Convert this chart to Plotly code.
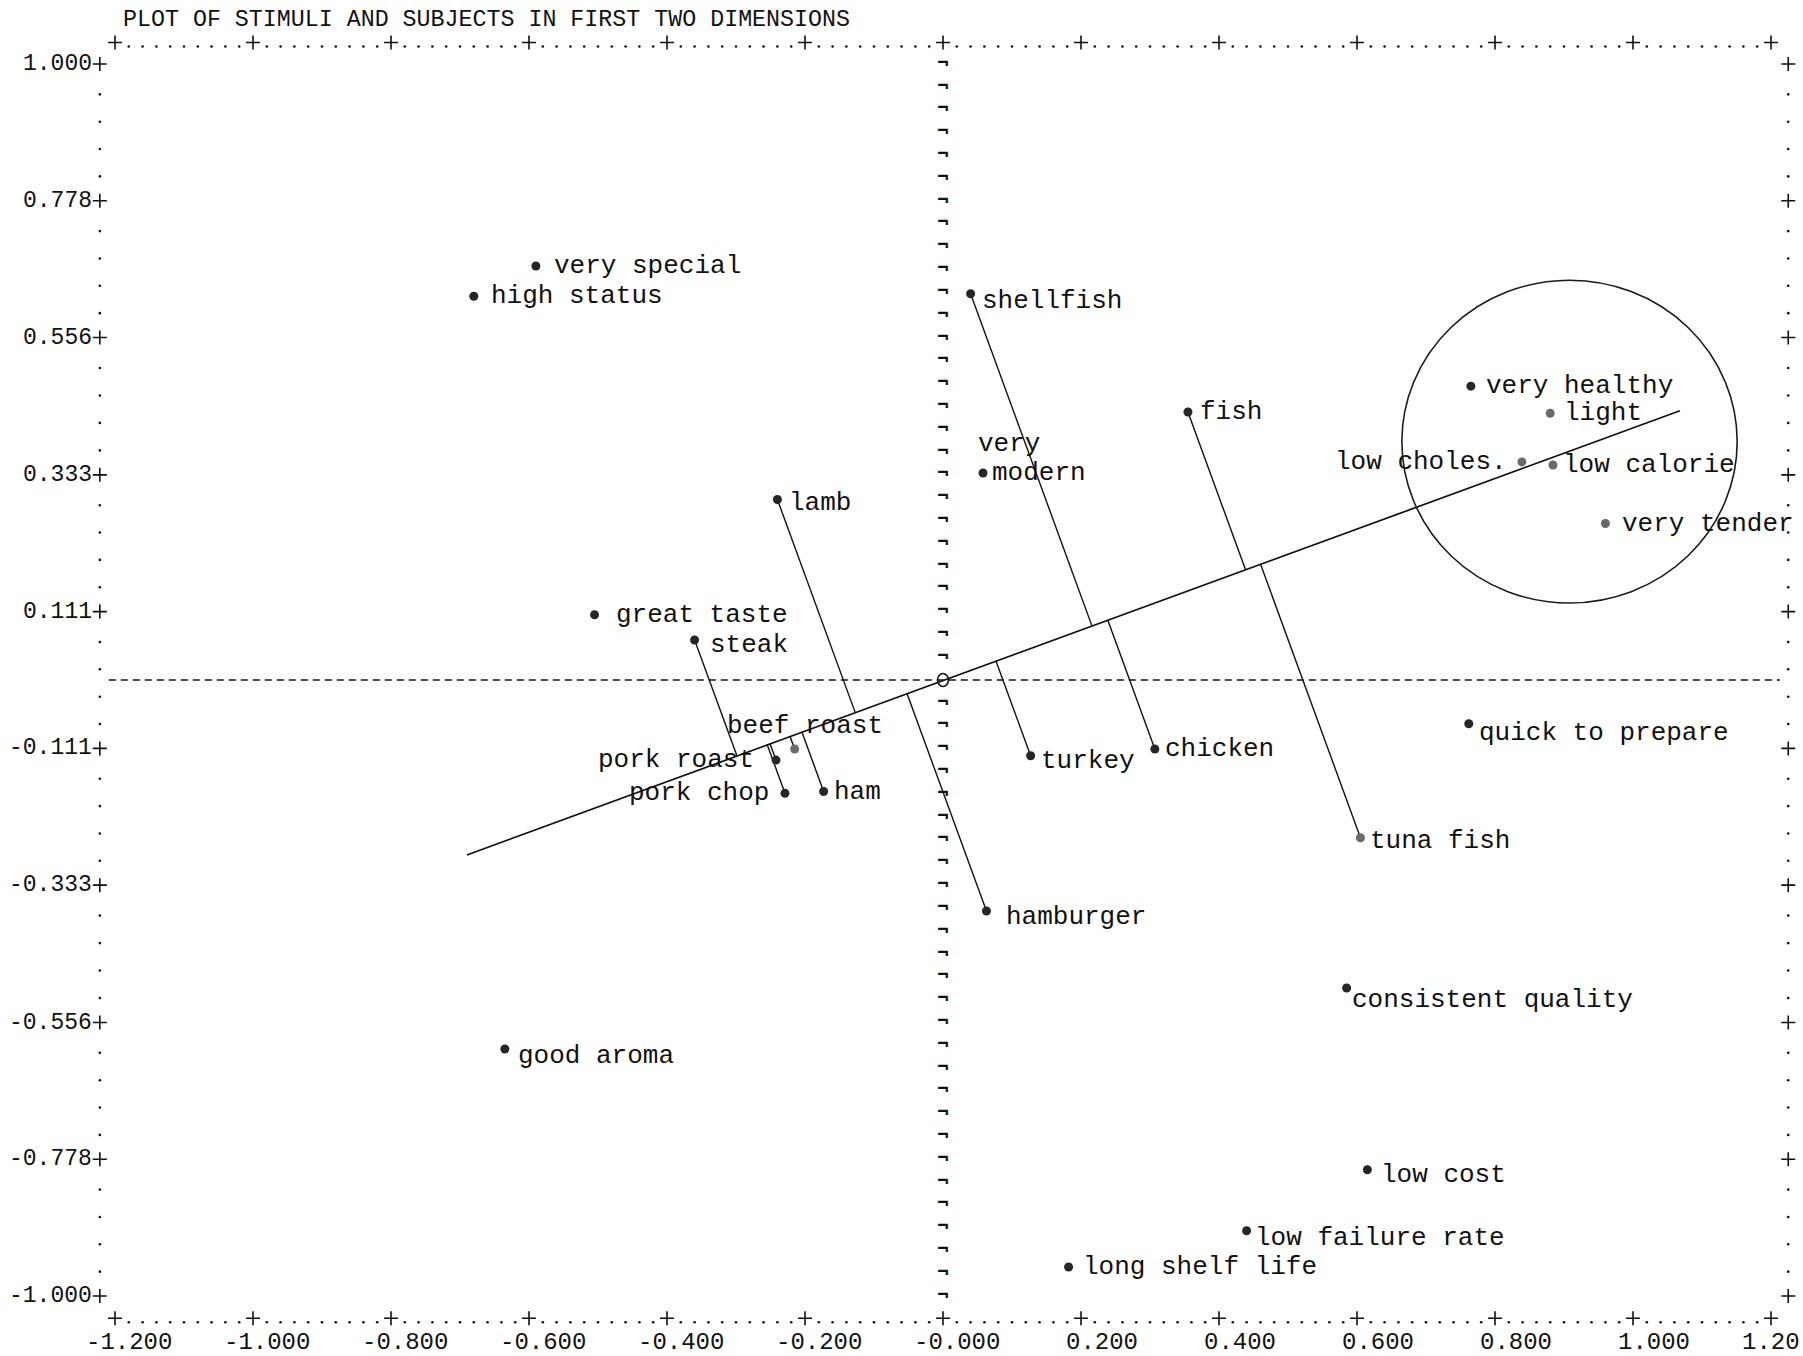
import plotly.graph_objects as go

# ---------------------------------------------------------------------------
# Data
# ---------------------------------------------------------------------------
TITLE = "PLOT OF STIMULI AND SUBJECTS IN FIRST TWO DIMENSIONS"

# Stimuli (foods); each is projected onto the preference vector
stimulus_names = ["shellfish", "fish", "lamb", "steak", "beef roast", "pork roast",
                  "pork chop", "ham", "turkey", "chicken", "hamburger", "tuna fish"]
stimulus_x = [0.040, 0.355, -0.240, -0.360, -0.215, -0.242,
              -0.229, -0.173, 0.127, 0.307, 0.063, 0.605]
stimulus_y = [0.627, 0.435, 0.293, 0.065, -0.112, -0.130,
              -0.184, -0.181, -0.123, -0.112, -0.375, -0.256]

# Subjects' attribute points
attribute_names = ["very special", "high status", "very\nmodern", "great taste",
                   "quick to prepare", "consistent quality", "good aroma", "low cost",
                   "low failure rate", "long shelf life", "very healthy", "light",
                   "low choles.", "low calorie", "very tender"]
attribute_x = [-0.590, -0.680, 0.058, -0.505, 0.762, 0.585, -0.635, 0.615,
               0.440, 0.182, 0.765, 0.880, 0.839, 0.884, 0.960]
attribute_y = [0.672, 0.623, 0.336, 0.106, -0.071, -0.500, -0.599, -0.795,
               -0.894, -0.953, 0.477, 0.433, 0.354, 0.349, 0.254]

# Preference vector through the origin
vector_x = [-0.690, 1.068]
vector_y = [-0.284, 0.437]

# Cluster ring around the "healthy" attributes
cluster_center = (0.908, 0.387)
cluster_radius = (0.243, 0.262)

# Axis ticks
x_ticks = [-1.2, -1.0, -0.8, -0.6, -0.4, -0.2, 0.0, 0.2, 0.4, 0.6, 0.8, 1.0, 1.2]
x_tick_labels = ["-1.200", "-1.000", "-0.800", "-0.600", "-0.400", "-0.200", "-0.000",
                 "0.200", "0.400", "0.600", "0.800", "1.000", "1.20"]
y_ticks = [1.0, 0.778, 0.556, 0.333, 0.111, -0.111, -0.333, -0.556, -0.778, -1.0]
y_tick_labels = ["1.000", "0.778", "0.556", "0.333", "0.111", "-0.111", "-0.333",
                 "-0.556", "-0.778", "-1.000"]

# ---------------------------------------------------------------------------
# Page geometry and styles
# ---------------------------------------------------------------------------
W, H = 1803, 1356
PX_X, PX_Y = 690.0, 616.0          # pixels per data unit
ORIGIN = (943.0, 680.0)            # pixel position of (0, 0)
x_range = [-ORIGIN[0] / PX_X, (W - ORIGIN[0]) / PX_X]
y_range = [-(H - ORIGIN[1]) / PX_Y, ORIGIN[1] / PX_Y]

TOP_ROW, BOTTOM_ROW = 1.035, -1.036
LEFT_COL, RIGHT_COL = -1.222, 1.225
XLABEL_Y = -1.075

INK = "#111111"
LABEL_FONT = dict(family="Liberation Mono", size=26, color=INK)
AXIS_FONT = "Liberation Mono"

grey_points = {"beef roast", "tuna fish", "light", "low choles.", "low calorie", "very tender"}

# gap in px between a marker and the start of its label
label_gap = {"very special": 16, "high status": 15, "great taste": 19, "steak": 13,
             "hamburger": 18, "very tender": 15, "very healthy": 13, "light": 12,
             "good aroma": 11, "low cost": 12, "long shelf life": 12,
             "consistent quality": 3, "low failure rate": 6, "shellfish": 9,
             "fish": 10, "lamb": 10}
DEFAULT_GAP = 8
# labels printed a little below their marker (px)
label_drop = {"quick to prepare": 9, "consistent quality": 12, "good aroma": 7,
              "low failure rate": 7, "shellfish": 7, "hamburger": 6, "low cost": 5,
              "turkey": 5, "steak": 5, "lamb": 3, "tuna fish": 3}
# labels written to the left of their marker
left_labels = {"low choles.": 13, "pork roast": 20, "pork chop": 14}
# labels written above and to the left
above_labels = {"beef roast": (-70, 23)}

fig = go.Figure()

# ---------------------------------------------------------------------------
# Printer-style frame: '+' at the ticks, dots between them
# ---------------------------------------------------------------------------
dot_x, dot_y = [], []
for a, b in zip(x_ticks[:-1], x_ticks[1:]):
    step = (b - a) / 10
    for k in range(1, 10):
        for row in (TOP_ROW, BOTTOM_ROW):
            dot_x.append(a + k * step)
            dot_y.append(row - 4 / PX_Y)
for a, b in zip(y_ticks[:-1], y_ticks[1:]):
    step = (b - a) / 5
    for k in range(1, 5):
        for col in (LEFT_COL, RIGHT_COL):
            dot_x.append(col)
            dot_y.append(a + k * step - 3 / PX_Y)
fig.add_trace(go.Scatter(x=dot_x, y=dot_y, mode="markers", hoverinfo="skip",
                         marker=dict(size=2.6, color=INK)))

plus_x = [t for t in x_ticks] * 2 + [LEFT_COL] * len(y_ticks) + [RIGHT_COL] * len(y_ticks)
plus_y = [TOP_ROW] * len(x_ticks) + [BOTTOM_ROW] * len(x_ticks) + list(y_ticks) * 2
fig.add_trace(go.Scatter(x=plus_x, y=plus_y, mode="markers", hoverinfo="skip",
                         marker=dict(symbol="cross-thin", size=10,
                                     line=dict(width=1.6, color=INK))))

# vertical reference column at x = 0
col_y = [k / 27 for k in range(-27, 28) if k != 0]
fig.add_trace(go.Scatter(x=[0.0] * len(col_y), y=col_y, mode="text",
                         text=["\u00ac"] * len(col_y), hoverinfo="skip",
                         textfont=dict(family="DejaVu Sans Mono", size=19, color=INK,
                                       weight="bold")))

# horizontal dashed line at y = 0
fig.add_trace(go.Scatter(x=[-1.209, 1.213], y=[0, 0], mode="lines", hoverinfo="skip",
                         line=dict(color=INK, width=1.3, dash="7px,5px")))

# ---------------------------------------------------------------------------
# Preference vector and stimulus projections (perpendicular on the page)
# ---------------------------------------------------------------------------
fig.add_trace(go.Scatter(x=vector_x, y=vector_y, mode="lines", hoverinfo="skip",
                         line=dict(color=INK, width=1.7)))

ax, ay = vector_x[1] * PX_X, vector_y[1] * PX_Y
norm2 = ax * ax + ay * ay
proj_x, proj_y = [], []
for sx, sy in zip(stimulus_x, stimulus_y):
    t = (sx * PX_X * ax + sy * PX_Y * ay) / norm2
    proj_x += [sx, t * ax / PX_X, None]
    proj_y += [sy, t * ay / PX_Y, None]
fig.add_trace(go.Scatter(x=proj_x, y=proj_y, mode="lines", hoverinfo="skip",
                         line=dict(color=INK, width=1.4)))

# ---------------------------------------------------------------------------
# Points
# ---------------------------------------------------------------------------
all_names = stimulus_names + attribute_names
all_x = stimulus_x + attribute_x
all_y = stimulus_y + attribute_y
colors = ["#6a6a6a" if n in grey_points else "#262626" for n in all_names]
fig.add_trace(go.Scatter(x=all_x, y=all_y, mode="markers", hoverinfo="skip",
                         marker=dict(size=9, color=colors, line=dict(width=0))))

annotations = []
for name, x, y in zip(all_names, all_x, all_y):
    drop = -label_drop.get(name, 0)
    if name in above_labels:
        dx, dy = above_labels[name]
        annotations.append(dict(x=x, y=y, text=name, xanchor="left", yanchor="middle",
                                xshift=dx, yshift=dy))
    elif name in left_labels:
        annotations.append(dict(x=x, y=y, text=name, xanchor="right", yanchor="middle",
                                xshift=-left_labels[name], yshift=drop))
    elif "\n" in name:
        first, second = name.split("\n")
        annotations.append(dict(x=x, y=y, text=first, xanchor="left", yanchor="middle",
                                xshift=-7, yshift=29))
        annotations.append(dict(x=x, y=y, text=second, xanchor="left", yanchor="middle",
                                xshift=7))
    else:
        annotations.append(dict(x=x, y=y, text=name, xanchor="left", yanchor="middle",
                                xshift=label_gap.get(name, DEFAULT_GAP), yshift=drop))
for a in annotations:
    a.update(showarrow=False, font=LABEL_FONT, xref="x", yref="y")

# tick labels: decimal point sits just right of each '+'
CW = 0.6 * 24
for t, lab in zip(x_ticks, x_tick_labels):
    n = lab.index(".")
    shift = 6 - (n + 0.5) * CW - 1
    if t == x_ticks[-1]:
        # last label is squeezed against the page edge
        annotations.append(dict(x=x_range[1], y=XLABEL_Y, text=lab, showarrow=False,
                                xanchor="right", yanchor="middle", xshift=-1,
                                font=dict(family=AXIS_FONT, size=24, color=INK)))
        continue
    annotations.append(dict(x=t, y=XLABEL_Y, text=lab, showarrow=False,
                            xanchor="left", yanchor="middle", xshift=shift,
                            font=dict(family=AXIS_FONT, size=24, color=INK)))
for t, lab in zip(y_ticks, y_tick_labels):
    annotations.append(dict(x=LEFT_COL, y=t, text=lab, showarrow=False,
                            xanchor="right", yanchor="middle", xshift=-6,
                            font=dict(family=AXIS_FONT, size=23, color=INK)))

annotations.append(dict(x=-1.191, y=1.072, text=TITLE, showarrow=False,
                        xanchor="left", yanchor="middle",
                        font=dict(family=AXIS_FONT, size=23.3, color=INK)))

shapes = [
    # cluster ring
    dict(type="circle", xref="x", yref="y",
         x0=cluster_center[0] - cluster_radius[0], x1=cluster_center[0] + cluster_radius[0],
         y0=cluster_center[1] - cluster_radius[1], y1=cluster_center[1] + cluster_radius[1],
         line=dict(color="#1a1a1a", width=1.6)),
    # origin mark
    dict(type="circle", xref="x", yref="y", xsizemode="pixel", ysizemode="pixel",
         xanchor=0, yanchor=0, x0=-5.5, x1=5.5, y0=-6.5, y1=6.5,
         line=dict(color=INK, width=1.6)),
]

fig.update_layout(
    width=W, height=H,
    margin=dict(l=0, r=0, t=0, b=0),
    paper_bgcolor="white", plot_bgcolor="white",
    showlegend=False,
    xaxis=dict(range=x_range, visible=False, fixedrange=True),
    yaxis=dict(range=y_range, visible=False, fixedrange=True),
    annotations=annotations,
    shapes=shapes,
)

fig.write_html("out.html")
